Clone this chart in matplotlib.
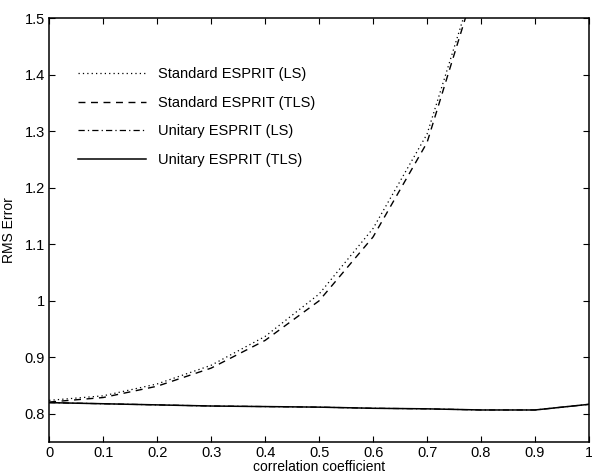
import matplotlib
matplotlib.use('Agg')
import matplotlib.pyplot as plt

corr = [0.0, 0.1, 0.2, 0.3, 0.4, 0.5, 0.6, 0.7, 0.8, 0.9, 1.0]
std_ls = [0.824, 0.832, 0.853, 0.886, 0.937, 1.012, 1.128, 1.295, 1.60, 2.1, 2.8]
std_tls = [0.821, 0.829, 0.849, 0.881, 0.930, 1.000, 1.113, 1.280, 1.59, 2.1, 2.8]
uni_ls = [0.820, 0.818, 0.816, 0.814, 0.813, 0.812, 0.810, 0.809, 0.807, 0.807, 0.817]
uni_tls = [0.820, 0.818, 0.816, 0.814, 0.813, 0.812, 0.810, 0.809, 0.807, 0.807, 0.817]
labels = ['Standard ESPRIT (LS)', 'Standard ESPRIT (TLS)',
          'Unitary ESPRIT (LS)', 'Unitary ESPRIT (TLS)']

plt.rcParams['font.family'] = ['Liberation Sans', 'DejaVu Sans']

fig = plt.figure(figsize=(5.92, 4.76), dpi=100)
ax = fig.add_axes([0.083, 0.071, 0.912, 0.891])

ax.plot(corr, std_ls, color='black', linestyle=(0, (1, 2.5)), linewidth=0.9, label=labels[0])
ax.plot(corr, std_tls, color='black', linestyle=(0, (5, 4)), linewidth=1.0, label=labels[1])
ax.plot(corr, uni_ls, color='black', linestyle=(0, (5, 2.5, 1, 2.5)), linewidth=0.9, label=labels[2])
ax.plot(corr, uni_tls, color='black', linestyle='-', linewidth=1.1, label=labels[3])

ax.set_xlim(0, 1)
ax.set_ylim(0.75, 1.5)
ax.set_xticks(corr)
ax.set_xticklabels(['0', '0.1', '0.2', '0.3', '0.4', '0.5', '0.6', '0.7', '0.8', '0.9', '1'])
ax.set_yticks([0.8, 0.9, 1.0, 1.1, 1.2, 1.3, 1.4, 1.5])
ax.set_yticklabels(['0.8', '0.9', '1', '1.1', '1.2', '1.3', '1.4', '1.5'])
ax.tick_params(direction='in', top=True, right=True, length=4, labelsize=10.5, pad=3)
for s in ax.spines.values():
    s.set_linewidth(1.1)

ax.set_xlabel('correlation coefficient', fontsize=10, labelpad=0)
ax.set_ylabel('RMS Error', fontsize=10, labelpad=6)

ax.legend(loc='upper left', bbox_to_anchor=(0.029, 0.915), frameon=False,
          fontsize=10.5, handlelength=4.7, handletextpad=0.8, labelspacing=1.0)

plt.savefig('out.png', dpi=100)
